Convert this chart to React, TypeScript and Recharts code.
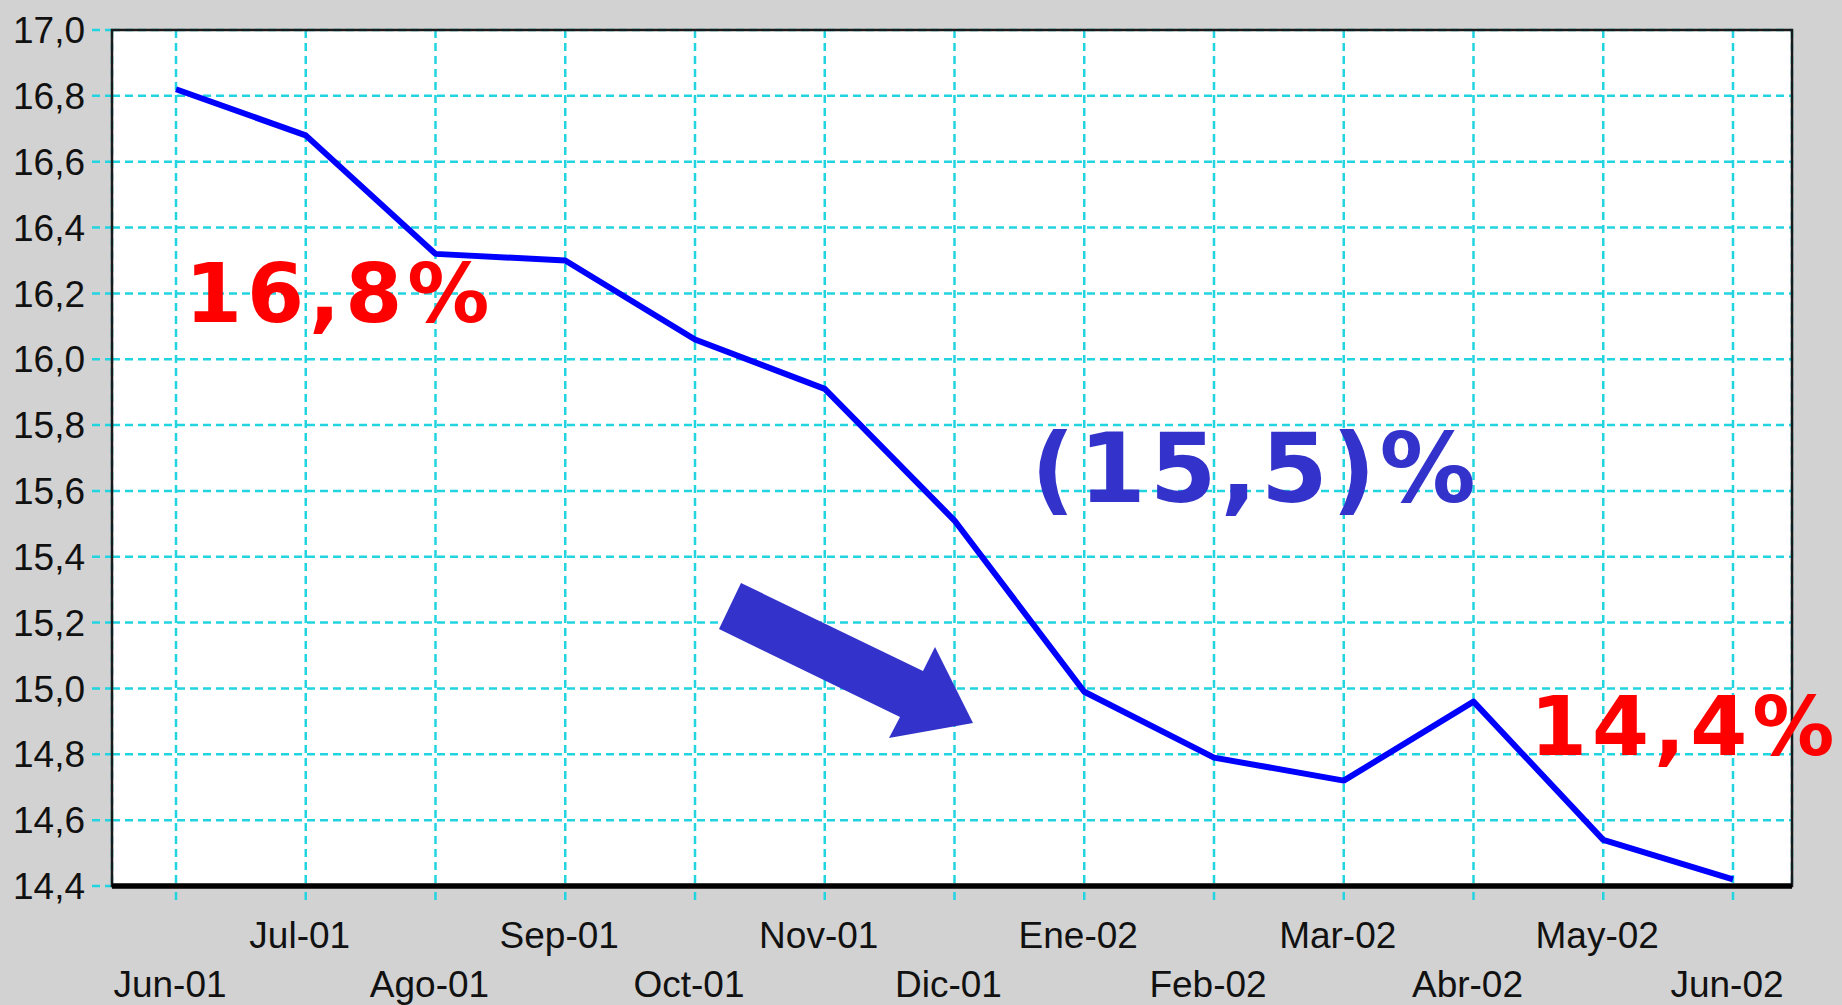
import React from "react";
import { LineChart, Line, XAxis, YAxis, CartesianGrid } from "recharts";

const months = [
  "Jun-01", "Jul-01", "Ago-01", "Sep-01", "Oct-01", "Nov-01", "Dic-01",
  "Ene-02", "Feb-02", "Mar-02", "Abr-02", "May-02", "Jun-02",
];
const rates = [
  16.82, 16.68, 16.32, 16.3, 16.06, 15.91, 15.51, 14.99, 14.79, 14.72, 14.96, 14.54, 14.42,
];
const yTicks = [14.4, 14.6, 14.8, 15.0, 15.2, 15.4, 15.6, 15.8, 16.0, 16.2, 16.4, 16.6, 16.8, 17.0];

const data = months.map((m, i) => ({ month: m, tasa: rates[i] }));

const CYAN = "#22d3e0";
const AXIS_FONT = "'Liberation Sans', Arial, sans-serif";

const MonthTick = (props: any) => {
  const { x, y, payload, index } = props;
  // alternate rows: Jun, Ago, Oct... on the lower row
  const dy = index % 2 === 0 ? 95 : 46;
  return (
    <text
      x={x - 6}
      y={y + dy}
      textAnchor="middle"
      fontFamily={AXIS_FONT}
      fontSize={37}
      fill="#111"
    >
      {payload.value}
    </text>
  );
};

const fmt = (v: number) => v.toFixed(1).replace(".", ",");

export default function App() {
  return (
    <div
      style={{
        position: "absolute",
        left: 0,
        top: 0,
        width: 1842,
        height: 1005,
        background: "#d2d2d2",
      }}
    >
      <LineChart
        width={1842}
        height={1005}
        data={data}
        margin={{ top: 30, right: 50, left: 0, bottom: 0 }}
      >
        <CartesianGrid
          stroke={CYAN}
          strokeWidth={2.5}
          strokeDasharray="8 5"
          fill="#ffffff"
          fillOpacity={1}
        />
        <XAxis
          dataKey="month"
          height={119}
          interval={0}
          padding={{ left: 64, right: 59 }}
          axisLine={{ stroke: "#000", strokeWidth: 5 }}
          tickLine={{ stroke: CYAN, strokeWidth: 2.5, strokeDasharray: "8 5" }}
          tickSize={14}
          tick={<MonthTick />}
        />
        <YAxis
          width={112}
          domain={[14.4, 17.0]}
          ticks={yTicks}
          interval={0}
          tickFormatter={fmt}
          axisLine={{ stroke: "#222", strokeWidth: 2 }}
          tickLine={{ stroke: CYAN, strokeWidth: 2.5, strokeDasharray: "8 5" }}
          tickSize={20}
          tickMargin={7}
          tick={{ fontFamily: AXIS_FONT, fontSize: 37, fill: "#111" }}
        />
        <Line
          type="linear"
          dataKey="tasa"
          stroke="#0000ff"
          strokeWidth={6}
          strokeLinejoin="round"
          dot={false}
          isAnimationActive={false}
        />
      </LineChart>
      <svg
        width={1842}
        height={1005}
        style={{ position: "absolute", left: 0, top: 0, pointerEvents: "none" }}
      >
        <rect x={112} y={30} width={1680} height={856} fill="none" stroke="#1a1a1a" strokeWidth={2.5} />
        <line x1={112} y1={886} x2={1792} y2={886} stroke="#000" strokeWidth={5} />
        <polygon
          points="741,583 923,671 935,647 973,723 889,738 900,717 719,629"
          fill="#3333cc"
        />
        <text
          x={185}
          y={322}
          fontFamily="'DejaVu Sans', Verdana, sans-serif"
          fontWeight="bold"
          fontSize={82}
          letterSpacing={5}
          fill="#ff0000"
        >
          16,8%
        </text>
        <text
          x={1031}
          y={502}
          fontFamily="'DejaVu Sans', Verdana, sans-serif"
          fontWeight="bold"
          fontSize={96}
          letterSpacing={4}
          fill="#3333cc"
        >
          (15,5)%
        </text>
        <text
          x={1530}
          y={755}
          fontFamily="'DejaVu Sans', Verdana, sans-serif"
          fontWeight="bold"
          fontSize={82}
          letterSpacing={5}
          fill="#ff0000"
        >
          14,4%
        </text>
      </svg>
    </div>
  );
}
